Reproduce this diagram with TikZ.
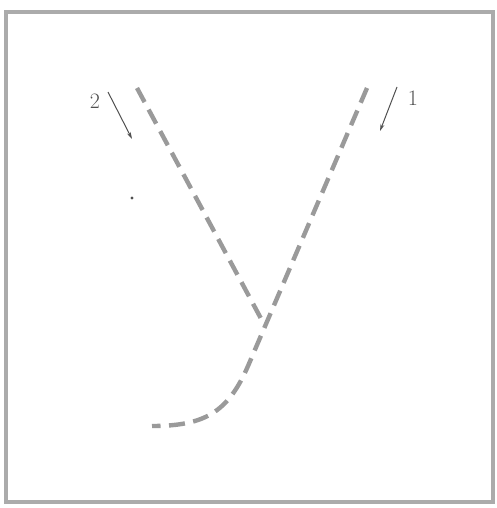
\documentclass[tikz,border=0pt]{standalone}
\usetikzlibrary{arrows.meta}
\definecolor{ink}{HTML}{505050}
\definecolor{trace}{HTML}{9A9A9A}
\definecolor{frameline}{HTML}{ABABAB}

\begin{document}
\begin{tikzpicture}[
  x=1pt, y=-1pt,
  font=\fontsize{22}{24}\selectfont, text=ink,
  track/.style={draw=trace,line width=4.4pt,dash pattern=on 16pt off 8.5pt},
  pointer/.style={-{Stealth[length=7pt,width=4pt]},draw=ink,line width=1pt},
  tag/.style={inner sep=1pt}
]
\useasboundingbox (0,0) rectangle (497,508);
\draw[draw=frameline,line width=3.2pt] (6,12) rectangle (493,502);
% The two dashed tracks meeting near the bottom.
\coordinate (top2) at (137,88);
\coordinate (cross) at (265,326);
\coordinate (top1) at (367,88);
\coordinate (bend) at (248,366);
\coordinate (tail) at (152,426);
\draw[track] (top2) -- (cross);
\draw[track] (top1) -- (bend) .. controls (228,412) and (205,426) .. (tail);
% Labels with their pointers.
\node[tag] (lab2) at (95,101) {2};
\coordinate (tip2) at (132,139);
\draw[pointer] (108,92) -- (tip2);
\node[tag] (lab1) at (413,98) {1};
\coordinate (tip1) at (380,131);
\draw[pointer] (397,87) -- (tip1);
\fill[ink] (132,198) circle (1.6);
\end{tikzpicture}
\end{document}
